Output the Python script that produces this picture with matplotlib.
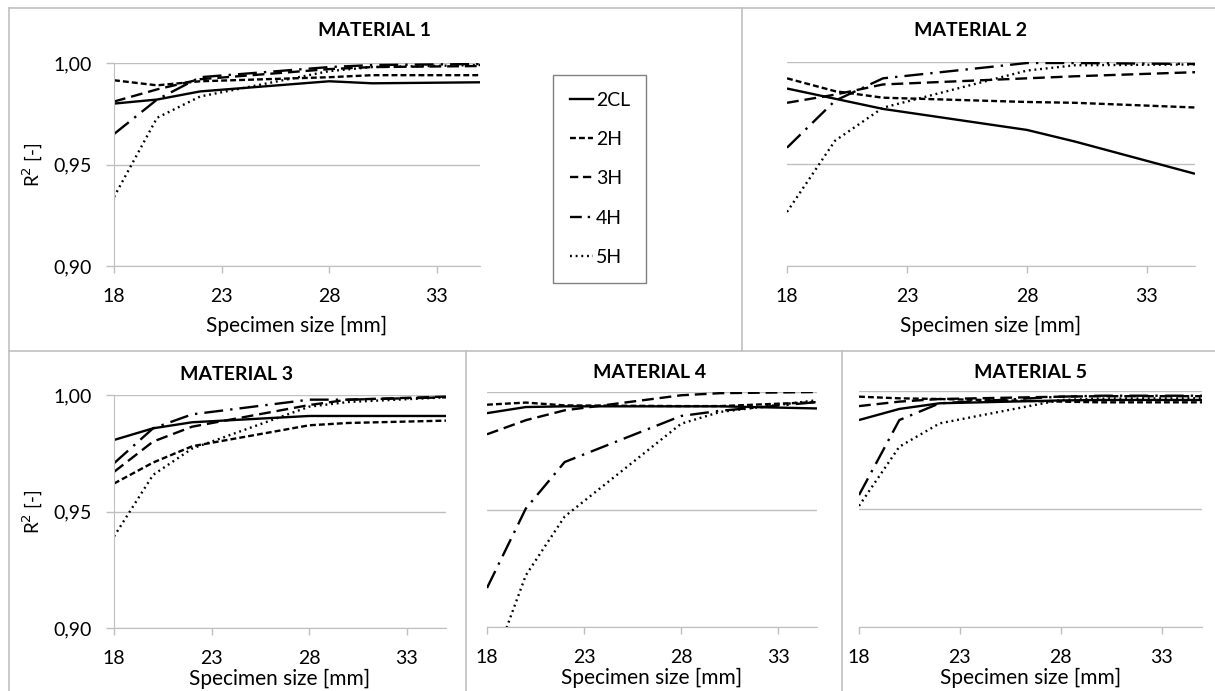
import matplotlib
matplotlib.use('Agg')
import matplotlib.pyplot as plt
from matplotlib.lines import Line2D
from matplotlib.ticker import FuncFormatter

plt.rcParams['font.family'] = ['Lato', 'DejaVu Sans']

# specimen sizes [mm]
sizes = [18, 20, 22, 28, 30, 35]
series = ['2CL', '2H', '3H', '4H', '5H']

# R^2 values
mat1 = {
    '2CL': [0.980, 0.982, 0.986, 0.991, 0.990, 0.9905],
    '2H':  [0.9915, 0.989, 0.991, 0.993, 0.994, 0.994],
    '3H':  [0.981, 0.987, 0.992, 0.997, 0.998, 0.9985],
    '4H':  [0.965, 0.982, 0.993, 0.998, 0.999, 0.9995],
    '5H':  [0.934, 0.973, 0.9835, 0.996, 0.998, 0.999],
}
mat2 = {
    '2CL': [0.987, 0.982, 0.977, 0.9667, 0.961, 0.9452],
    '2H':  [0.992, 0.9857, 0.9825, 0.9804, 0.980, 0.9777],
    '3H':  [0.980, 0.984, 0.989, 0.992, 0.993, 0.995],
    '4H':  [0.958, 0.981, 0.992, 0.9995, 0.9995, 0.999],
    '5H':  [0.9265, 0.9614, 0.9776, 0.9958, 0.9984, 0.9988],
}
mat3 = {
    '2CL': [0.9807, 0.9857, 0.9883, 0.991, 0.991, 0.991],
    '2H':  [0.962, 0.971, 0.978, 0.987, 0.988, 0.989],
    '3H':  [0.967, 0.980, 0.9864, 0.9957, 0.998, 0.9993],
    '4H':  [0.9707, 0.9857, 0.9917, 0.998, 0.998, 0.999],
    '5H':  [0.9393, 0.9657, 0.977, 0.995, 0.997, 0.999],
}
mat4 = {
    '2CL': [0.991, 0.9936, 0.9939, 0.9939, 0.9939, 0.993],
    '2H':  [0.9946, 0.9955, 0.9943, 0.994, 0.994, 0.9957],
    '3H':  [0.982, 0.988, 0.9922, 0.9986, 0.9995, 1.000],
    '4H':  [0.9166, 0.9504, 0.9702, 0.9898, 0.992, 0.9957],
    '5H':  [0.877, 0.922, 0.947, 0.9865, 0.9915, 0.9965],
}
mat5 = {
    '2CL': [0.9877, 0.9924, 0.9948, 0.996, 0.9962, 0.9962],
    '2H':  [0.9976, 0.9969, 0.9966, 0.9955, 0.9952, 0.9952],
    '3H':  [0.9936, 0.9955, 0.9966, 0.9976, 0.9978, 0.9978],
    '4H':  [0.9559, 0.9877, 0.9948, 0.9976, 0.998, 0.998],
    '5H':  [0.9513, 0.9764, 0.9863, 0.9962, 0.9968, 0.9969],
}

styles = {
    '2CL': '-',
    '2H': (0, (2.5, 1.3)),
    '3H': (0, (5, 2.5)),
    '4H': (0, (8, 3, 1, 3)),
    '5H': (0, (0.8, 1.6)),
}
# shorter patterns so the legend handles show the full motif
leg_styles = dict(styles)
leg_styles['4H'] = (0, (5, 2.5, 1, 2))
leg_styles['3H'] = (0, (3.5, 2))

W, H = 1215, 691
fig = plt.figure(figsize=(W / 100, H / 100), dpi=100)
GRID = '#bfbfbf'


def px_axes(left, right, top, bottom):
    return fig.add_axes([left / W, 1 - bottom / H, (right - left) / W, (bottom - top) / H])


def draw(ax, data, title, title_xy, ylab, xpad):
    for s in series:
        ax.plot(sizes, data[s], color='black', lw=1.7, linestyle=styles[s],
                solid_capstyle='butt', dash_capstyle='butt')
    ax.set_xlim(18, 35)
    ax.set_ylim(0.90, 1.00)
    ax.set_xticks([18, 23, 28, 33])
    ax.set_yticks([0.90, 0.95, 1.00])
    ax.yaxis.set_major_formatter(FuncFormatter(lambda v, p: ('%.2f' % v).replace('.', ',')))
    ax.grid(axis='y', color=GRID, lw=1)
    ax.set_axisbelow(True)
    for sp in ['top', 'right']:
        ax.spines[sp].set_visible(False)
    ax.spines['bottom'].set_color(GRID)
    ax.tick_params(axis='x', color=GRID, length=5, width=1, pad=11, labelsize=14)
    if ylab:
        ax.spines['left'].set_color(GRID)
        ax.tick_params(axis='y', color=GRID, length=6, width=1, pad=10, labelsize=14)
        ax.set_ylabel('R$^2$ [-]', fontsize=13.5, labelpad=6)
    else:
        ax.spines['left'].set_visible(False)
        ax.tick_params(axis='y', length=0, labelleft=False)
    ax.set_xlabel('Specimen size [mm]', fontsize=15, labelpad=xpad)
    fig.text(title_xy[0] / W, 1 - title_xy[1] / H, title, ha='center', va='center',
             fontsize=14, fontweight='bold')


ax1 = px_axes(114, 480, 63, 266)
draw(ax1, mat1, 'MATERIAL 1', (375, 30), True, 8)
ax2 = px_axes(787, 1195, 62, 266)
draw(ax2, mat2, 'MATERIAL 2', (970, 30), False, 8)
ax3 = px_axes(114, 446, 395, 628)
draw(ax3, mat3, 'MATERIAL 3', (237, 374), True, 1)
ax4 = px_axes(487, 817, 392, 627)
draw(ax4, mat4, 'MATERIAL 4', (650, 373), False, 1)
ax5 = px_axes(859, 1202, 391, 627)
draw(ax5, mat5, 'MATERIAL 5', (1030, 373), False, 1)

# legend
handles = [Line2D([], [], color='black', lw=1.7, linestyle=leg_styles[s],
                  dash_capstyle='butt') for s in series]
leg = fig.legend(handles, series, loc='upper left',
                 bbox_to_anchor=(553 / W, 1 - 75 / H), fontsize=14,
                 frameon=True, fancybox=False, edgecolor='#606060',
                 handlelength=1.2, handletextpad=0.15, labelspacing=1.15,
                 borderpad=0.85, borderaxespad=0)
leg.get_frame().set_linewidth(1)


# chart-area borders
def fline(x0, y0, x1, y1):
    fig.add_artist(Line2D([x0 / W, x1 / W], [1 - y0 / H, 1 - y1 / H],
                          color='#c0c0c0', lw=1.2))


fline(9, 8, W, 8)
fline(9, 8, 9, H)
fline(742, 8, 742, 351)
fline(9, 351, W, 351)
fline(466, 351, 466, H)
fline(842, 351, 842, H)

fig.savefig('out.png', dpi=100)
